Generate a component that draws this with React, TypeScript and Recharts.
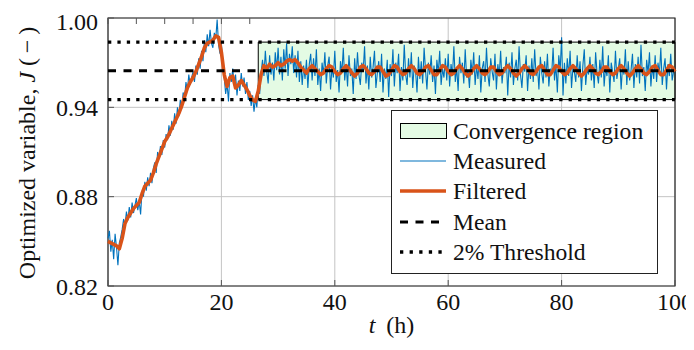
import React from "react";
import { LineChart, Line, XAxis, YAxis, CartesianGrid, ReferenceArea } from "recharts";

// time step of measured samples (h)
const T_STEP = 0.25;

const measured: number[] = [
  0.852, 0.857, 0.843, 0.851, 0.838, 0.855, 0.846, 0.834, 0.849, 0.853, 0.858, 0.865, 0.861, 0.870, 0.864, 0.873, 0.866, 0.876, 0.869, 0.874,
  0.879, 0.871, 0.877, 0.868, 0.884, 0.880, 0.890, 0.884, 0.893, 0.887, 0.896, 0.889, 0.899, 0.903, 0.896, 0.910, 0.906, 0.914, 0.908, 0.918,
  0.913, 0.922, 0.918, 0.928, 0.921, 0.931, 0.925, 0.936, 0.929, 0.940, 0.934, 0.945, 0.939, 0.950, 0.946, 0.957, 0.951, 0.962, 0.955, 0.960,
  0.964, 0.957, 0.968, 0.962, 0.973, 0.966, 0.978, 0.971, 0.985, 0.977, 0.989, 0.981, 0.992, 0.983, 0.980, 0.990, 0.986, 0.999, 0.982, 0.976,
  0.983, 0.969, 0.960, 0.949, 0.956, 0.944, 0.963, 0.957, 0.966, 0.955, 0.962, 0.948, 0.958, 0.951, 0.963, 0.954, 0.960, 0.949, 0.957, 0.945,
  0.951, 0.941, 0.948, 0.937, 0.946, 0.940, 0.955, 0.949, 0.963, 0.972, 0.961, 0.978, 0.964, 0.956, 0.975, 0.962, 0.970, 0.958, 0.977, 0.965,
  0.980, 0.962, 0.974, 0.958, 0.979, 0.966, 0.983, 0.961, 0.976, 0.969, 0.981, 0.963, 0.975, 0.960, 0.978, 0.957, 0.971, 0.955, 0.968, 0.959,
  0.972, 0.953, 0.969, 0.976, 0.958, 0.973, 0.961, 0.979, 0.955, 0.966, 0.951, 0.970, 0.962, 0.977, 0.956, 0.968, 0.974, 0.952, 0.967, 0.960,
  0.978, 0.957, 0.965, 0.950, 0.971, 0.963, 0.980, 0.958, 0.969, 0.954, 0.975, 0.961, 0.966, 0.949, 0.973, 0.959, 0.977, 0.962, 0.955, 0.970,
  0.964, 0.981, 0.956, 0.968, 0.952, 0.974, 0.960, 0.967, 0.978, 0.953, 0.963, 0.971, 0.957, 0.976, 0.950, 0.966, 0.959, 0.972, 0.947, 0.969,
  0.961, 0.979, 0.954, 0.970, 0.963, 0.976, 0.951, 0.967, 0.958, 0.982, 0.962, 0.955, 0.973, 0.960, 0.977, 0.953, 0.968, 0.964, 0.950, 0.974,
  0.959, 0.971, 0.956, 0.980, 0.965, 0.952, 0.970, 0.962, 0.975, 0.957, 0.968, 0.949, 0.972, 0.963, 0.978, 0.955, 0.966, 0.960, 0.973, 0.958,
  0.976, 0.954, 0.969, 0.961, 0.981, 0.957, 0.967, 0.951, 0.974, 0.963, 0.970, 0.956, 0.979, 0.960, 0.965, 0.953, 0.972, 0.962, 0.977, 0.955,
  0.968, 0.959, 0.975, 0.950, 0.966, 0.971, 0.957, 0.980, 0.962, 0.954, 0.973, 0.964, 0.958, 0.976, 0.952, 0.969, 0.961, 0.978, 0.956, 0.967,
  0.963, 0.974, 0.948, 0.970, 0.960, 0.977, 0.955, 0.966, 0.972, 0.958, 0.981, 0.962, 0.953, 0.969, 0.964, 0.975, 0.951, 0.968, 0.959, 0.973,
  0.957, 0.979, 0.961, 0.967, 0.952, 0.974, 0.963, 0.956, 0.971, 0.960, 0.976, 0.954, 0.966, 0.962, 0.980, 0.958, 0.969, 0.950, 0.975, 0.965,
  0.987, 0.948, 0.970, 0.956, 0.973, 0.961, 0.978, 0.953, 0.967, 0.964, 0.957, 0.975, 0.960, 0.971, 0.951, 0.968, 0.979, 0.955, 0.966, 0.962,
  0.974, 0.958, 0.969, 0.953, 0.977, 0.963, 0.956, 0.972, 0.960, 0.981, 0.954, 0.967, 0.961, 0.975, 0.950, 0.970, 0.964, 0.957, 0.978, 0.959,
  0.966, 0.973, 0.952, 0.968, 0.962, 0.979, 0.955, 0.971, 0.958, 0.965, 0.976, 0.953, 0.969, 0.960, 0.974, 0.956, 0.982, 0.961, 0.967, 0.951,
  0.972, 0.963, 0.977, 0.954, 0.968, 0.959, 0.975, 0.957, 0.970, 0.962, 0.980, 0.955, 0.966, 0.973, 0.952, 0.969, 0.961, 0.976, 0.958, 0.964,
  0.965,
];

// filtered signal, every 0.5 h
const filtered: number[] = [
  0.850, 0.849, 0.848, 0.847, 0.845, 0.852, 0.862, 0.866, 0.869, 0.872,
  0.874, 0.876, 0.882, 0.887, 0.889, 0.891, 0.896, 0.902, 0.907, 0.912,
  0.917, 0.920, 0.924, 0.928, 0.932, 0.936, 0.941, 0.947, 0.953, 0.957,
  0.960, 0.964, 0.969, 0.974, 0.980, 0.983, 0.984, 0.985, 0.988, 0.987,
  0.977, 0.962, 0.954, 0.960, 0.961, 0.953, 0.955, 0.958, 0.955, 0.952,
  0.948, 0.945, 0.944, 0.951, 0.962, 0.968, 0.966, 0.969, 0.967, 0.968,
  0.970, 0.968, 0.969, 0.971, 0.972, 0.971, 0.972, 0.970, 0.967, 0.965,
  0.963, 0.966, 0.968, 0.966,
  0.964, 0.962, 0.963, 0.966, 0.968, 0.967, 0.964, 0.962, 0.963, 0.966,
  0.968, 0.966, 0.963, 0.961, 0.963, 0.967, 0.968, 0.966, 0.963, 0.962,
  0.964, 0.967, 0.967, 0.964, 0.961, 0.962, 0.965, 0.968, 0.967, 0.964,
  0.962, 0.963, 0.966, 0.968, 0.966, 0.963, 0.962, 0.964, 0.967, 0.968,
  0.965, 0.962, 0.962, 0.965, 0.968, 0.967, 0.964, 0.962, 0.963, 0.966,
  0.968, 0.966, 0.963, 0.961, 0.963, 0.966, 0.968, 0.966, 0.963, 0.962,
  0.964, 0.967, 0.967, 0.964, 0.962, 0.963, 0.966, 0.968, 0.966, 0.963,
  0.961, 0.963, 0.966, 0.968, 0.966, 0.963, 0.962, 0.964, 0.967, 0.968,
  0.965, 0.962, 0.962, 0.965, 0.968, 0.967, 0.964, 0.962, 0.963, 0.966,
  0.968, 0.966, 0.963, 0.961, 0.963, 0.966, 0.968, 0.966, 0.963, 0.962,
  0.964, 0.967, 0.967, 0.964, 0.962, 0.963, 0.966, 0.968, 0.966, 0.963,
  0.961, 0.963, 0.966, 0.968, 0.966, 0.963, 0.962, 0.964, 0.967, 0.968,
  0.965, 0.962, 0.962, 0.965, 0.968, 0.967, 0.964,
];

const MEAN = 0.9645;
const UPPER = 0.9838;
const LOWER = 0.9452;
const CONV_START = 26.5;
const T_MAX = 100;

const xTicks = [0, 20, 40, 60, 80, 100];
const yTicks = [0.82, 0.88, 0.94, 1.0];

const legendItems = ["Convergence region", "Measured", "Filtered", "Mean", "2% Threshold"];

const FONT = "Liberation Serif";
const BLUE = "#0072BD";
const ORANGE = "#D95319";
const GREEN_FILL = "#e4fbe4";
const TICK_COLOR = "#555";

const data = measured.map((m, i) => ({
  t: i * T_STEP,
  measured: m,
  filtered: i % 2 === 0 ? filtered[i / 2] : null,
  mean: MEAN,
  upper: UPPER,
  lower: LOWER,
}));

const W = 686;
const H = 334;

function LegendBox() {
  const rowY = [21, 51, 81, 112, 142];
  return (
    <svg
      width={268}
      height={165}
      style={{ position: "absolute", left: 383, top: 102, overflow: "visible" }}
    >
      <rect x={0.5} y={0.5} width={266} height={163} fill="#fff" stroke="#222" strokeWidth={1} />
      <rect x={9.5} y={rowY[0] - 7.5} width={46} height={15} fill={GREEN_FILL} stroke="#000" strokeWidth={1} />
      <line x1={9} x2={55} y1={rowY[1]} y2={rowY[1]} stroke={BLUE} strokeWidth={1.2} />
      <line x1={9} x2={55} y1={rowY[2]} y2={rowY[2]} stroke={ORANGE} strokeWidth={3.5} />
      <line x1={9} x2={55} y1={rowY[3]} y2={rowY[3]} stroke="#000" strokeWidth={3} strokeDasharray="8 7.5" />
      <line x1={9} x2={55} y1={rowY[4]} y2={rowY[4]} stroke="#000" strokeWidth={3.3} strokeDasharray="3.3 6.3" />
      {legendItems.map((s, i) => (
        <text key={s} x={62} y={rowY[i] + 8} fontFamily={FONT} fontSize={23.6} fill="#111">
          {s}
        </text>
      ))}
    </svg>
  );
}

const noTick = () => <g />;

export default function App() {
  return (
    <div style={{ position: "relative", width: W, height: H, fontFamily: FONT }}>
      <LineChart
        width={W}
        height={H}
        data={data}
        margin={{ top: 9, right: 18, bottom: 0, left: 0 }}
        style={{ overflow: "visible", fontFamily: FONT }}
      >
        <CartesianGrid stroke="#c4c4c4" strokeWidth={1} horizontalValues={yTicks} verticalValues={xTicks} />
        <ReferenceArea
          x1={CONV_START}
          x2={T_MAX}
          y1={LOWER}
          y2={UPPER}
          fill={GREEN_FILL}
          fillOpacity={1}
          stroke="#000"
          strokeWidth={1}
        />
        <XAxis
          dataKey="t"
          type="number"
          domain={[0, 100]}
          ticks={xTicks}
          tickLine={{ stroke: TICK_COLOR, strokeWidth: 1 }}
          axisLine={false}
          tickSize={-6}
          tickMargin={13}
          height={56}
          tick={{ fontFamily: FONT, fontSize: 24, fill: "#111" }}
          label={({ viewBox }: any) => (
            <text
              x={viewBox.x + viewBox.width / 2}
              y={viewBox.y + 47}
              textAnchor="middle"
              fontFamily={FONT}
              fontSize={24}
              fill="#111"
            >
              <tspan fontStyle="italic">t</tspan>
              <tspan>{"\u2009 (h)"}</tspan>
            </text>
          )}
        />
        <XAxis
          xAxisId="top"
          orientation="top"
          type="number"
          domain={[0, 100]}
          ticks={xTicks}
          height={1}
          axisLine={false}
          tickLine={{ stroke: TICK_COLOR, strokeWidth: 1 }}
          tickSize={-6}
          tick={noTick}
        />
        <YAxis
          type="number"
          domain={[0.82, 1.0]}
          ticks={yTicks}
          allowDataOverflow
          tickFormatter={(v: number) => v.toFixed(2)}
          tickLine={{ stroke: TICK_COLOR, strokeWidth: 1 }}
          axisLine={false}
          tickSize={-6}
          tickMargin={16}
          width={100}
          tick={{ fontFamily: FONT, fontSize: 24, fill: "#111" }}
          label={({ viewBox }: any) => {
            const cx = viewBox.x + 27;
            const cy = viewBox.y + 135;
            return (
              <text
                x={cx}
                y={cy}
                transform={`rotate(-90 ${cx} ${cy})`}
                textAnchor="middle"
                fontFamily={FONT}
                fontSize={24}
                fill="#111"
              >
                <tspan>Optimized variable, </tspan>
                <tspan fontStyle="italic">J</tspan>
                <tspan>{" (\u2009\u2212\u2009)"}</tspan>
              </text>
            );
          }}
        />
        <YAxis
          yAxisId="right"
          orientation="right"
          type="number"
          domain={[0.82, 1.0]}
          ticks={yTicks}
          width={1}
          axisLine={false}
          tickLine={{ stroke: TICK_COLOR, strokeWidth: 1 }}
          tickSize={-6}
          tick={noTick}
        />
        <Line
          dataKey="measured"
          stroke={BLUE}
          strokeWidth={1.1}
          dot={false}
          activeDot={false}
          isAnimationActive={false}
        />
        <Line
          dataKey="filtered"
          stroke={ORANGE}
          strokeWidth={3.6}
          strokeLinejoin="round"
          connectNulls
          dot={false}
          activeDot={false}
          isAnimationActive={false}
        />
        <Line
          dataKey="mean"
          stroke="#000"
          strokeWidth={3}
          strokeDasharray="8 7.5"
          dot={false}
          activeDot={false}
          isAnimationActive={false}
        />
        <Line
          dataKey="upper"
          stroke="#000"
          strokeWidth={3.3}
          strokeDasharray="3.3 6.1"
          dot={false}
          activeDot={false}
          isAnimationActive={false}
        />
        <Line
          dataKey="lower"
          stroke="#000"
          strokeWidth={3.3}
          strokeDasharray="3.3 6.1"
          dot={false}
          activeDot={false}
          isAnimationActive={false}
        />
        <ReferenceArea
          x1={0}
          x2={T_MAX}
          y1={0.82}
          y2={1.0}
          fill="none"
          stroke="#262626"
          strokeWidth={1.2}
        />
      </LineChart>
      <LegendBox />
    </div>
  );
}
